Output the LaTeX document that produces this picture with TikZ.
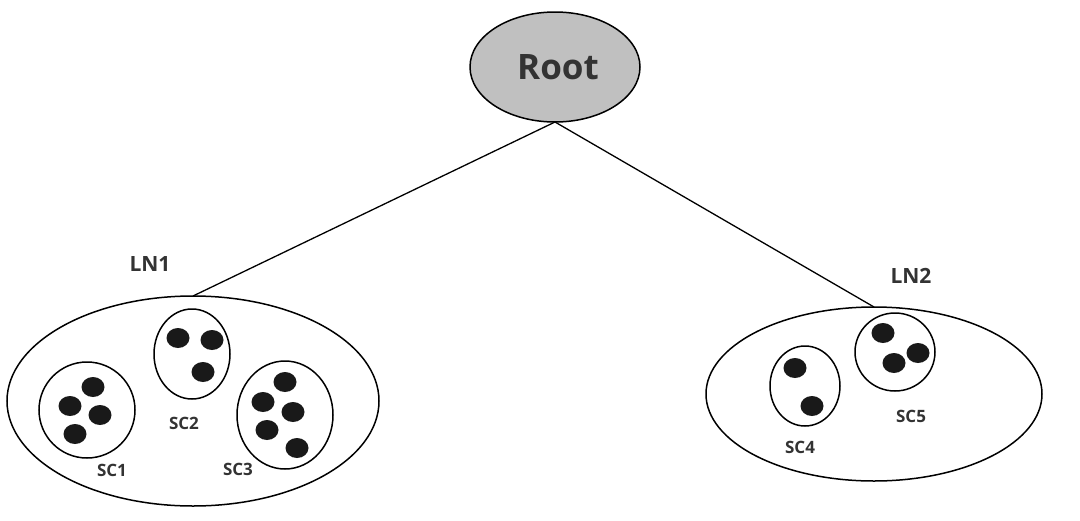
\documentclass[tikz,border=0pt]{standalone}
\usepackage{fontspec}
\setmainfont{Open Sans}
\usetikzlibrary{shapes.geometric}
\definecolor{txt}{HTML}{333333}
\definecolor{rootfill}{HTML}{C0C0C0}
\tikzset{
  every node/.style={inner sep=0pt, outer sep=0pt},
  oval/.style={ellipse, draw=black, line width=1.5pt},
  dot/.style={ellipse, fill=black!90, minimum width=23pt, minimum height=20pt},
  sclabel/.style={text=txt, font=\fontsize{17}{17}\selectfont\bfseries},
  lnlabel/.style={text=txt, font=\fontsize{21}{21}\selectfont\bfseries},
  link/.style={line width=1.3pt}
}
\begin{document}
\begin{tikzpicture}[x=1pt,y=-1pt]
\useasboundingbox (0,0) rectangle (1080,520);
% root
\node[oval, fill=rootfill, minimum width=170pt, minimum height=110pt] (root) at (555,67) {};
\node[text=txt, font=\fontsize{35}{35}\selectfont\bfseries] (roottxt) at (558,67) {Root};
% LN1
\node[oval, minimum width=372pt, minimum height=210pt] (ln1) at (193,401) {};
\node[lnlabel] (ln1lab) at (150,264) {LN1};
\node[oval, minimum width=96pt, minimum height=96pt] (sc1) at (87,410) {};
\node[oval, minimum width=76pt, minimum height=90pt] (sc2) at (192,354) {};
\node[oval, minimum width=96pt, minimum height=108pt] (sc3) at (285,415) {};
\node[dot] (d11) at (93,387) {};
\node[dot] (d12) at (70,406) {};
\node[dot] (d13) at (100,415) {};
\node[dot] (d14) at (75,434) {};
\node[dot] (d21) at (178,338) {};
\node[dot] (d22) at (212,340) {};
\node[dot] (d23) at (203,372) {};
\node[dot] (d31) at (285,382) {};
\node[dot] (d32) at (263,402) {};
\node[dot] (d33) at (293,412) {};
\node[dot] (d34) at (267,430) {};
\node[dot] (d35) at (297,448) {};
\node[sclabel] (sc1lab) at (112,470) {SC1};
\node[sclabel] (sc2lab) at (184,423) {SC2};
\node[sclabel] (sc3lab) at (238,469) {SC3};
% LN2
\node[oval, minimum width=336pt, minimum height=174pt] (ln2) at (874,394) {};
\node[lnlabel] (ln2lab) at (911,276) {LN2};
\node[oval, minimum width=70pt, minimum height=80pt] (sc4) at (805,386) {};
\node[oval, minimum width=80pt, minimum height=78pt] (sc5) at (895,352) {};
\node[dot] (d41) at (795,368) {};
\node[dot] (d42) at (812,406) {};
\node[dot] (d51) at (883,333) {};
\node[dot] (d52) at (918,353) {};
\node[dot] (d53) at (894,363) {};
\node[sclabel] (sc4lab) at (800,447) {SC4};
\node[sclabel] (sc5lab) at (911,416) {SC5};
% links
\draw[link] (root.south) -- (ln1.north);
\draw[link] (root.south) -- (ln2.north);
\end{tikzpicture}
\end{document}
